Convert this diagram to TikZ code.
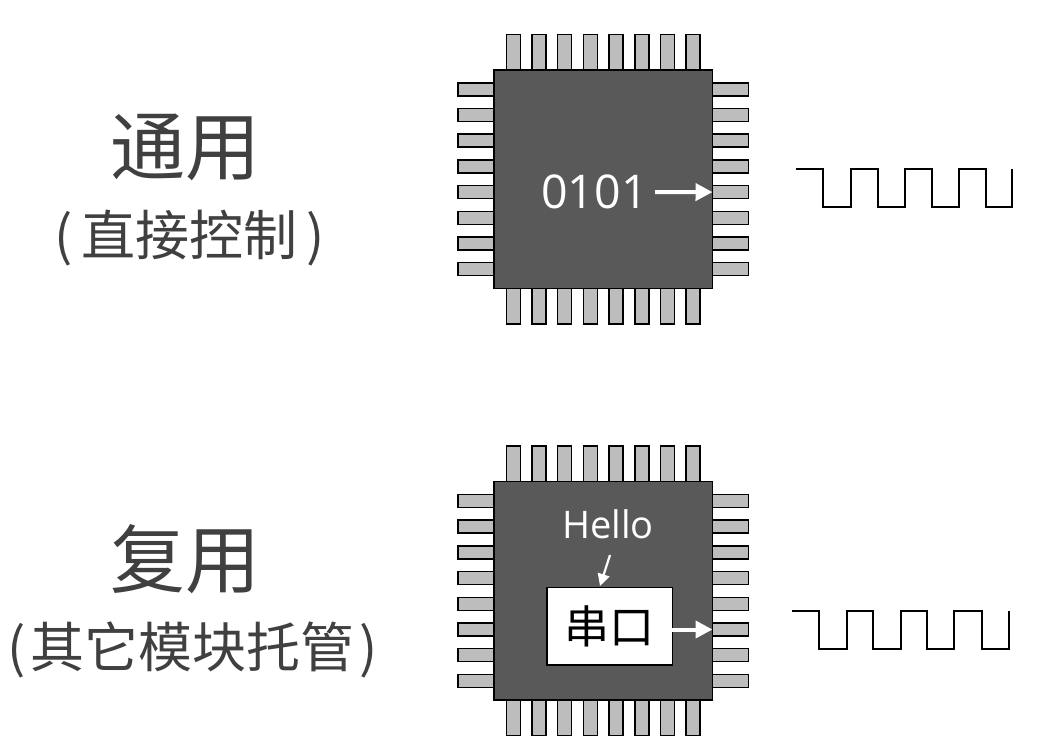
\documentclass[tikz,border=0pt]{standalone}
\usepackage{fontspec}
\setmainfont{Open Sans}
\newfontfamily\cjk{Noto Sans CJK SC}
\usetikzlibrary{arrows.meta}
\definecolor{txt}{HTML}{404040}
\definecolor{chipgray}{HTML}{595959}
\definecolor{pingray}{HTML}{BDBDBD}
\tikzset{
  x=1pt,y=-1pt,
  pinbase/.style={draw=black,line width=1.5pt,fill=pingray,inner sep=0pt,outer sep=0pt},
  pinh/.style={pinbase,minimum width=36pt,minimum height=13pt},
  pinv/.style={pinbase,minimum width=14pt,minimum height=36pt},
  chipbody/.style={draw=black,line width=1.5pt,fill=chipgray,inner sep=0pt,outer sep=0pt,minimum width=218.5pt,minimum height=218.5pt},
  bigtxt/.style={text=txt,font=\cjk\fontsize{75}{75}\selectfont,inner sep=0pt},
  subtxt/.style={text=txt,font=\cjk\fontsize{54}{56}\selectfont,inner sep=0pt},
  whitearrow/.style={draw=white,line width=4pt,-{Triangle[length=17pt,width=17pt]}},
  thinwhitearrow/.style={draw=white,line width=2.2pt,-{Triangle[length=12pt,width=12pt]}},
  wave/.style={draw=black,line width=1.8pt,line join=miter},
}
\newcommand{\chipat}[2]{% name, top y of chip
  \foreach \i in {1,...,8}{
    \pgfmathsetmacro{\px}{513.3+(\i-1)*25.7}
    \pgfmathsetmacro{\py}{#2+19.3+(\i-1)*25.7}
    \node[pinv] (#1T\i) at (\px,#2-17.5) {};
    \node[pinv] (#1B\i) at (\px,#2+236) {};
    \node[pinh] (#1L\i) at (476,\py) {};
    \node[pinh] (#1R\i) at (730.5,\py) {};
  }
  \node[chipbody] (#1) at (603.3,#2+109.2) {};
}
\begin{document}
\begin{tikzpicture}
\useasboundingbox (0,0) rectangle (1040,749);
\fill[white] (0,0) rectangle (1040,749);

% upper chip
\chipat{chipA}{70}
\node[text=white,font=\fontsize{46.5}{47}\selectfont,inner sep=0pt] (bits) at (594.5,192) {0101};
\draw[whitearrow] (655,192) -- (chipAR5.west);

% lower chip
\chipat{chipB}{481.7}
\node[text=white,font=\fontsize{38}{38}\selectfont,inner sep=0pt] (hello) at (608,524) {Hello};
\node[draw=black,line width=1.5pt,fill=white,minimum width=125.5pt,minimum height=77.5pt,inner sep=0pt,outer sep=0pt,font=\cjk\fontsize{45}{45}\selectfont,text=black] (uart) at (609.5,626.3) {串口};
\coordinate (uartout) at (uart.east |- chipBR6.west);
\draw[thinwhitearrow] (610,555) -- (600,586);
\draw[whitearrow] (uartout) -- (chipBR6.west);

% left labels
\node[bigtxt] (gpio) at (185,147) {通用};
\node[subtxt] (gpiosub) at (190,238) {(\kern9pt 直接控制\kern9pt)};
\node[bigtxt] (alt) at (185,559) {复用};
\node[subtxt] (altsub) at (193,650) {(\kern5pt 其它模块托管\kern5pt)};

% waveforms
\draw[wave] (795.7,169) -| (823.3,206.7) -| (851,169) -| (877.7,206.7) -| (905,169) -| (931.7,206.7) -| (959,169) -| (985.7,206.7) -| (1012.3,169);
\draw[wave] (792,611.3) -| (819.3,649) -| (846.7,611.3) -| (873.3,649) -| (900.7,611.3) -| (927.3,649) -| (954.3,611.3) -| (981.7,649) -| (1009.3,611.3);
\end{tikzpicture}
\end{document}
